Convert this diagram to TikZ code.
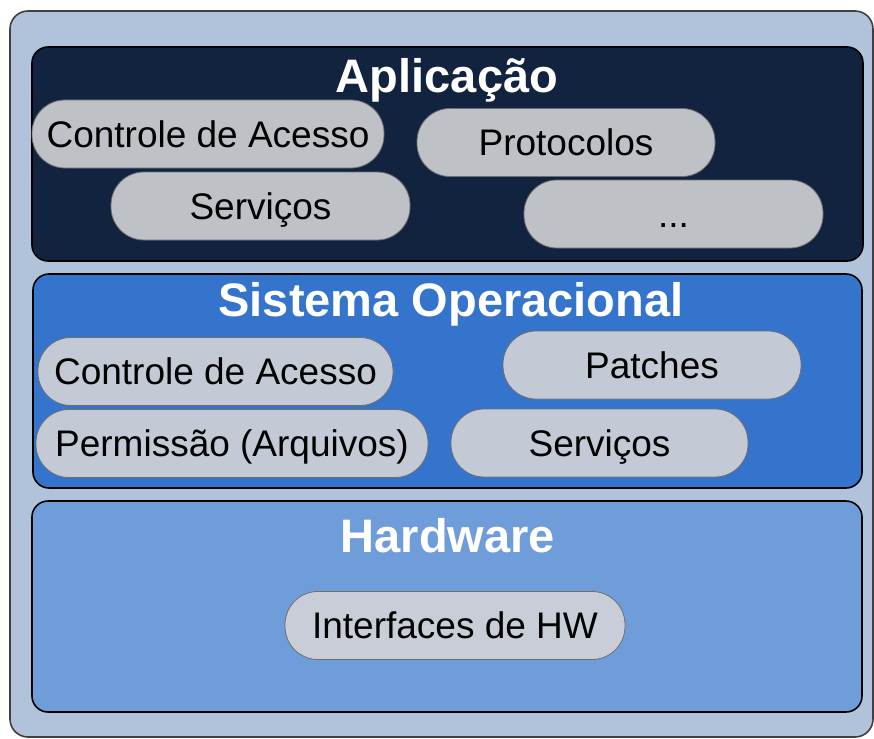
\documentclass[tikz,border=0pt]{standalone}
\usepackage{fontspec}
\setmainfont{Liberation Sans}
\definecolor{outerbg}{HTML}{B0C3DB}
\definecolor{appbg}{HTML}{12233F}
\definecolor{sobg}{HTML}{3574CC}
\definecolor{hwbg}{HTML}{6F9DDA}
\definecolor{pillapp}{HTML}{BEC1C6}
\definecolor{pillso}{HTML}{C3CAD6}
\definecolor{pillhw}{HTML}{C8CDD8}
\definecolor{pilledge}{HTML}{6E6E6E}
\tikzset{
  layerbox/.style={draw=black, line width=1.6pt, rounded corners=16pt},
  layertitle/.style={text=white, font=\fontsize{47}{52}\selectfont\bfseries, anchor=base, inner sep=0pt},
  pill/.style={draw=pilledge, line width=0.8pt, rounded corners=33pt, minimum height=68pt,
    inner sep=0pt, text height=26.5pt, text depth=0pt,
    font=\fontsize{37}{41}\selectfont, text=black},
}
\begin{document}
\begin{tikzpicture}[x=1pt,y=-1pt]
\useasboundingbox (0,0) rectangle (874,738);
\fill[white] (0,0) rectangle (874,738);
% outer
\draw[fill=outerbg, draw=black!75, line width=1.6pt, rounded corners=18pt] (10,11) rectangle (873,737);
% layers
\draw[layerbox, fill=appbg] (32,47) rectangle (863,261);
\draw[layerbox, fill=sobg] (33,274) rectangle (862,488);
\draw[layerbox, fill=hwbg] (32,501) rectangle (862,712);
% titles
\node[layertitle] (tapp) at (447,93) {Aplicação};
\node[layertitle] (tso) at (451,316) {Sistema Operacional};
\node[layertitle] (thw) at (448,552) {Hardware};
% application pills
\node[pill, fill=pillapp, minimum width=352pt] (appca) at (208,134) {Controle de Acesso};
\node[pill, fill=pillapp, minimum width=298pt] (appprot) at (566,142.5) {Protocolos};
\node[pill, fill=pillapp, minimum width=299pt] (appserv) at (260.5,206) {Serviços};
\node[pill, fill=pillapp, minimum width=299pt] (appdots) at (673.5,214) {...};
% SO pills
\node[pill, fill=pillso, minimum width=355pt] (soca) at (215.5,371.5) {Controle de Acesso};
\node[pill, fill=pillso, minimum width=298pt] (sopatch) at (652,365) {Patches};
\node[pill, fill=pillso, minimum width=392pt] (soperm) at (232,443.5) {Permissão (Arquivos)};
\node[pill, fill=pillso, minimum width=297pt] (soserv) at (599.5,443) {Serviços};
% HW pill
\node[pill, fill=pillhw, minimum width=340pt] (hwif) at (455,625.5) {Interfaces de HW};
\end{tikzpicture}
\end{document}
